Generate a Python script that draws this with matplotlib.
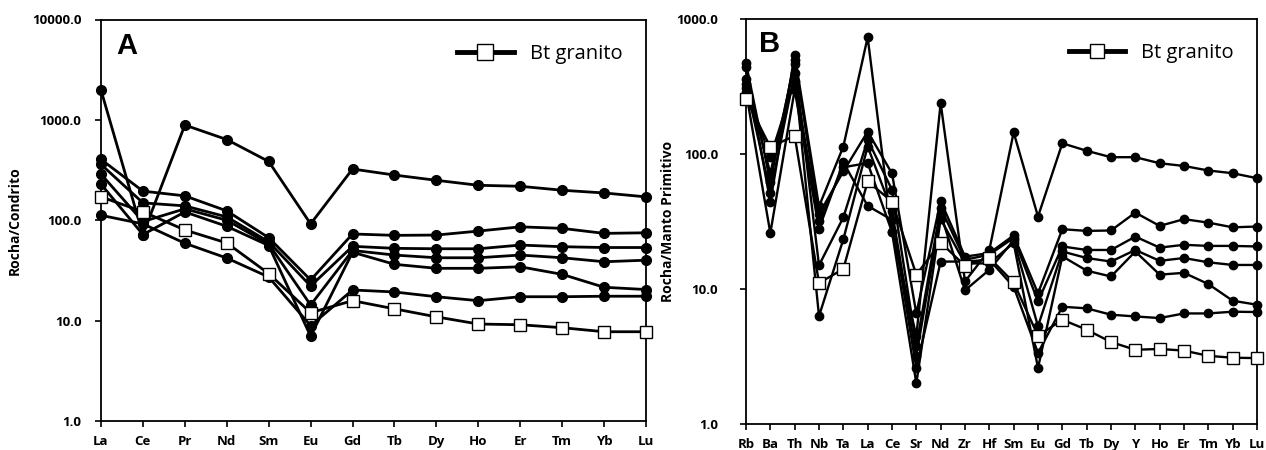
import matplotlib
matplotlib.use("Agg")
import matplotlib.pyplot as plt
from matplotlib.ticker import FixedLocator, NullLocator

# ---------------- Panel A data (chondrite normalised REE) ----------------
ree_a = ["La", "Ce", "Pr", "Nd", "Sm", "Eu", "Gd", "Tb", "Dy", "Ho", "Er", "Tm", "Yb", "Lu"]
a_s1 = [1980, 72, 888, 637, 385, 92, 324, 282, 250, 223, 218, 199, 187, 171]
a_s2 = [404, 195, 175, 124, 67, 25.4, 73, 70.7, 71.2, 78, 86, 83, 74, 75]
a_s3 = [360, 149, 139, 108, 61, 22.1, 55, 52.5, 52, 52, 56.6, 54.5, 53.5, 53.5]
a_s4 = [288, 97, 130, 100, 58, 14.3, 50, 45, 42.3, 42.3, 45, 42.3, 38.6, 40]
a_s5 = [229, 72, 121, 87, 56, 7.0, 48, 36.4, 33.2, 33.2, 34.4, 28.9, 21.5, 20.4]
a_s6 = [112, 92, 59, 42, 27.2, 8.9, 20.2, 19.3, 17.3, 15.8, 17.3, 17.3, 17.5, 17.5]
a_bt = [171, 121.6, 80, 59.4, 29.4, 12.0, 15.8, 13.1, 10.9, 9.25, 9.1, 8.5, 7.75, 7.75]

# ---------------- Panel B data (primitive mantle normalised) ----------------
elem_b = ["Rb", "Ba", "Th", "Nb", "Ta", "La", "Ce", "Sr", "Nd", "Zr", "Hf", "Sm", "Eu",
          "Gd", "Tb", "Dy", "Y", "Ho", "Er", "Tm", "Yb", "Lu"]
b_t1 = [446, 44, 545, 41, 114, 736, 26.5, 4.5, 239, 11.4, 19.5, 145, 34.5,
        120.5, 106, 95, 95, 85.7, 81.8, 75.7, 72.3, 66.4]
b_t2 = [472, 62, 500, 36, 74.5, 147, 72, 6.6, 45, 17.4, 18.5, 25, 9.3,
        27.8, 27, 27.2, 36.9, 29.4, 33, 31.1, 28.7, 29.1]
b_t3 = [360, 72, 470, 15, 34, 128, 54.5, 3.8, 40, 16.5, 18, 24, 8.1,
        20.7, 19.5, 19.5, 24.5, 20.3, 21.3, 20.9, 20.9, 20.7]
b_t4 = [330, 52, 400, 6.3, 23.4, 114, 38, 3.2, 36, 9.8, 13.9, 23, 5.3,
        19, 17, 16, 19.5, 16.2, 17, 15.8, 15.1, 15.1]
b_t5 = [310, 95, 350, 32, 80, 86, 26.5, 2.0, 33, 15.5, 15.5, 22, 2.6,
        17.5, 13.7, 12.4, 19, 12.8, 13.2, 10.9, 8.2, 7.66]
b_t6 = [290, 26, 300, 28, 87, 41.4, 32.6, 2.6, 16, 16, 16.5, 10.4, 3.36,
        7.4, 7.2, 6.46, 6.27, 6.1, 6.6, 6.6, 6.8, 6.76]
b_bt = [257, 113, 137, 11.1, 14.1, 62.8, 44.6, 12.8, 22.1, 14.9, 17.1, 11.2, 4.5,
        5.93, 5.0, 4.05, 3.55, 3.6, 3.5, 3.2, 3.1, 3.08]

legend_label = "Bt granito"

plt.rcParams['font.family'] = ['Open Sans', 'DejaVu Sans']

fig = plt.figure(figsize=(12.66, 4.5), dpi=100)
axA = fig.add_axes([101/1266, 1-421/450, 545/1266, 401.5/450])
axB = fig.add_axes([746/1266, 1-424/450, 511/1266, 404.7/450])


def draw(ax, cats, circles, squares, lw, ms_c, ms_s):
    x = list(range(len(cats)))
    for s in circles:
        ax.plot(x, s, color='black', lw=lw, marker='o', ms=ms_c,
                mfc='black', mec='black', clip_on=False, zorder=3)
    ax.plot(x, squares, color='black', lw=lw, marker='s', ms=ms_s,
            mfc='white', mec='black', mew=1.0, clip_on=False, zorder=4,
            label=legend_label)
    ax.set_yscale('log')
    ax.set_xlim(0, len(cats) - 1)
    ax.set_xticks(x)
    ax.set_xticklabels(cats, fontweight='bold', fontsize=9.5)
    ax.yaxis.set_minor_locator(NullLocator())
    ax.xaxis.set_minor_locator(NullLocator())
    for sp in ax.spines.values():
        sp.set_linewidth(1.3)
    ax.tick_params(axis='both', direction='out', length=4, width=1.2)
    ax.tick_params(axis='x', pad=6)
    leg = ax.legend(loc='upper right', frameon=False, fontsize=14.5,
                    handlelength=2.8, handletextpad=0.8,
                    bbox_to_anchor=(0.99, 0.985), markerscale=1.3)
    for ln in leg.get_lines():
        ln.set_linewidth(3.5)


draw(axA, ree_a, [a_s1, a_s2, a_s3, a_s4, a_s5, a_s6], a_bt, 2.0, 7, 8.5)
axA.set_ylim(1, 10000)
ya = [1, 10, 100, 1000, 10000]
axA.yaxis.set_major_locator(FixedLocator(ya))
axA.set_yticklabels([f"{v:.1f}" for v in ya], fontweight='bold', fontsize=9.5)
axA.tick_params(axis='y', pad=10)
axA.set_ylabel("Rocha/Condrito", fontweight='bold', fontsize=10)
axA.yaxis.set_label_coords(-0.145, 0.5)
axA.text(0.028, 0.935, "A", transform=axA.transAxes, fontsize=21,
         fontweight='bold', family='Liberation Sans', va='center', ha='left')

draw(axB, elem_b, [b_t1, b_t2, b_t3, b_t4, b_t5, b_t6], b_bt, 1.7, 6, 8)
axB.set_ylim(1, 1000)
yb = [1, 10, 100, 1000]
axB.yaxis.set_major_locator(FixedLocator(yb))
axB.set_yticklabels([f"{v:.1f}" for v in yb], fontweight='bold', fontsize=9.5)
axB.tick_params(axis='y', pad=16)
axB.set_ylabel("Rocha/Manto Primitivo", fontweight='bold', fontsize=10)
axB.yaxis.set_label_coords(-0.139, 0.5)
axB.text(0.025, 0.94, "B", transform=axB.transAxes, fontsize=21,
         fontweight='bold', family='Liberation Sans', va='center', ha='left')

fig.savefig("out.png", dpi=100)
